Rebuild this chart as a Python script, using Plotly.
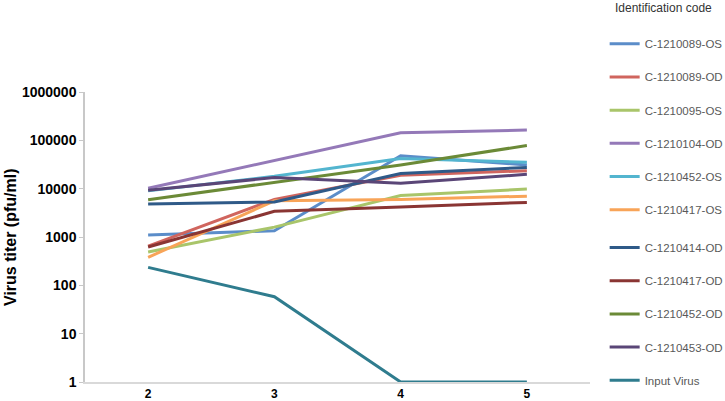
import plotly.graph_objects as go

days = [2, 3, 4, 5]
series_names = [
    "C-1210089-OS", "C-1210089-OD", "C-1210095-OS", "C-1210104-OD",
    "C-1210452-OS", "C-1210417-OS", "C-1210414-OD", "C-1210417-OD",
    "C-1210452-OD", "C-1210453-OD", "Input Virus",
]
y_tick_vals = [1, 10, 100, 1000, 10000, 100000, 1000000]
y_tick_text = ["1", "10", "100", "1000", "10000", "100000", "1000000"]

v_1210089_os = [1100, 1350, 48000, 31000]
v_1210089_od = [650, 6000, 19000, 23500]
v_1210095_os = [490, 1600, 7200, 9800]
v_1210104_od = [10200, 39000, 144000, 163000]
v_1210452_os = [9000, 18000, 42000, 35000]
v_1210417_os = [380, 5600, 6000, 7000]
v_1210414_od = [4800, 5300, 20500, 27500]
v_1210417_od = [620, 3400, 4200, 5200]
v_1210452_od = [5900, 13500, 31000, 78000]
v_1210453_od = [9300, 17000, 13000, 19800]
v_input = [235, 58, 1, 1]

values = [v_1210089_os, v_1210089_od, v_1210095_os, v_1210104_od,
          v_1210452_os, v_1210417_os, v_1210414_od, v_1210417_od,
          v_1210452_od, v_1210453_od, v_input]
colors = ["#5B8DC9", "#D0655E", "#A9C56A", "#9479B8", "#53B5CF", "#F8A458",
          "#2F5A88", "#8A3533", "#6B8A37", "#5A4677", "#2F7C8E"]

fig = go.Figure()
for i, (name, vals, col) in enumerate(zip(series_names, values, colors)):
    fig.add_trace(go.Scatter(
        x=days, y=vals, name=name, mode="lines",
        line=dict(color=col, width=3), legendgroup=name,
        legend="legend" if i < 6 else "legend2",
    ))

legend_common = dict(
    xref="container", yref="container", xanchor="left", yanchor="top",
    font=dict(size=11.5, color="#595959"),
    tracegroupgap=14.2, traceorder="grouped",
    bgcolor="rgba(0,0,0,0)", itemwidth=30,
)

fig.update_layout(
    width=725, height=401,
    margin=dict(l=85, r=135, t=92, b=19, autoexpand=False),
    paper_bgcolor="white", plot_bgcolor="white",
    font=dict(family="Liberation Sans, Arial, sans-serif"),
    showlegend=True,
    legend=dict(x=0.834, y=0.927, **legend_common),
    legend2=dict(x=0.834, y=0.419, **legend_common),
    xaxis=dict(
        type="linear", range=[1.5, 5.5], tickvals=days,
        showgrid=False, zeroline=False,
        showline=True, linecolor="#d9d9d9", linewidth=2,
        ticks="",
        tickfont=dict(size=12, color="black", family="Liberation Sans, Arial", weight="bold"),
    ),
    yaxis=dict(
        type="log", range=[0, 6],
        tickvals=y_tick_vals, ticktext=y_tick_text,
        showgrid=False, zeroline=False,
        showline=True, linecolor="#c8c8c8", linewidth=1.5,
        ticks="outside", ticklen=4, tickcolor="#c8c8c8",
        tickfont=dict(size=14, color="black", family="Liberation Sans, Arial", weight="bold"),
    ),
    annotations=[
        dict(text="<b>Virus titer (pfu/ml)</b>", textangle=-90,
             xref="paper", yref="paper", x=-0.1485, y=0.5,
             xanchor="center", yanchor="middle", showarrow=False,
             font=dict(size=16, color="black")),
        dict(text="Identification code", xref="paper", yref="paper",
             x=1.0455, y=1.29, xanchor="left", yanchor="middle",
             showarrow=False, font=dict(size=12, color="#333333")),
    ],
)
fig.write_html("out.html", config={"displayModeBar": False},
               post_script="document.body.style.margin='0px';")
